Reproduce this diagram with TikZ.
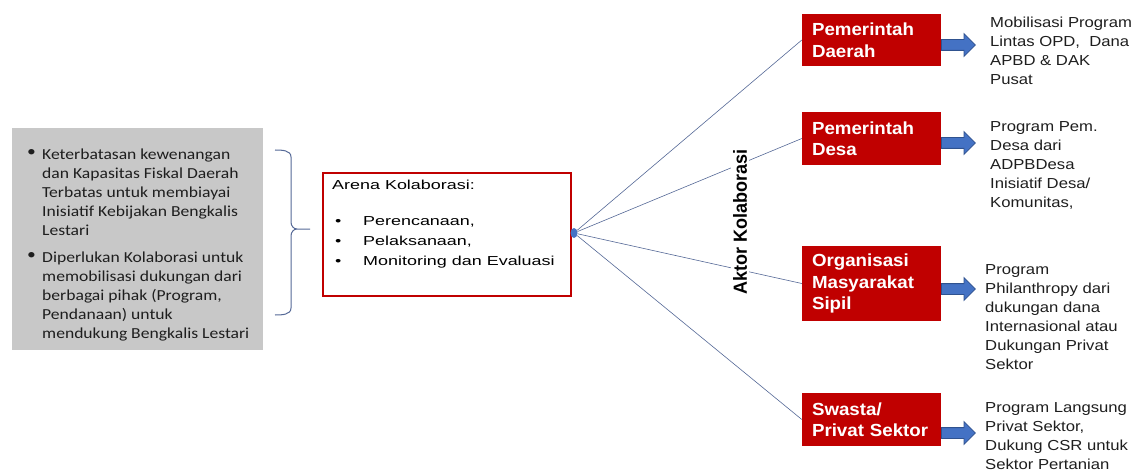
\documentclass[tikz,border=0pt]{standalone}
\usepackage{fontspec}
\setmainfont{Liberation Sans}
\newfontfamily\calibrifont{Carlito}[FakeStretch=1.15]
\newfontfamily\arenafont{Liberation Sans}[FakeStretch=1.38]
\newfontfamily\kotakfont{Liberation Sans}[FakeStretch=1.07]
\newfontfamily\ketfont{Liberation Sans}[FakeStretch=1.15]
\newfontfamily\aktorfont{Liberation Sans}[FakeStretch=0.95]
\usepackage{xcolor}
\definecolor{myred}{RGB}{192,0,0}
\definecolor{mygray}{RGB}{200,200,200}
\definecolor{myblue}{RGB}{68,114,196}
\definecolor{mydarkblue}{RGB}{47,82,143}
\definecolor{myline}{RGB}{84,104,150}
\definecolor{mytext}{RGB}{30,30,30}
\usepackage{tikz}
\usetikzlibrary{shapes.arrows,shapes.geometric,positioning}

\begin{document}
\begin{tikzpicture}[
  x=1pt, y=-1pt,
  graybox/.style={
    fill=mygray,
    minimum width=251,
    minimum height=222,
    anchor=north west
    },
  graytext/.style={
    anchor=north west,
    inner sep=0,
    align=left,
    text=mytext,
    font=\calibrifont\fontsize{15.3}{18.8}\selectfont
    },
  arenabox/.style={
    draw=myred,
    line width=2,
    fill=white,
    minimum width=248,
    minimum height=123,
    anchor=north west
    },
  aktorbox/.style={
    fill=myred,
    text=white,
    minimum width=139,
    text width=119,
    inner xsep=10,
    align=left,
    font=\kotakfont\bfseries\fontsize{17.5}{21.5}\selectfont
    },
  keterangan/.style={
    anchor=west,
    inner sep=0,
    align=left,
    text=mytext,
    font=\ketfont\fontsize{14.5}{19}\selectfont
    },
  panah/.style={
    single arrow,
    fill=myblue,
    draw=mydarkblue,
    line width=0.8,
    inner sep=5,
    minimum height=34,
    single arrow head extend=6,
    anchor=tail
    },
  garis/.style={draw=myline, line width=0.6},
  hub/.style={ellipse, fill=myblue, minimum width=7, minimum height=10, inner sep=0}
]
\useasboundingbox (0,0) rectangle (1137,473);

\node[graybox] (kendala) at (12,128) {};
\node[graytext] (butir1) at (27,149) {\textbullet};
\node[graytext] (poin1) at (42,149)
  {Keterbatasan kewenangan\\
   dan Kapasitas Fiskal Daerah\\
   Terbatas untuk membiayai\\
   Inisiatif Kebijakan Bengkalis\\
   Lestari};
\node[graytext] (butir2) at (27,252) {\textbullet};
\node[graytext] (poin2) at (42,252)
  {Diperlukan Kolaborasi untuk\\
   memobilisasi dukungan dari\\
   berbagai pihak (Program,\\
   Pendanaan) untuk\\
   mendukung Bengkalis Lestari};

\coordinate (kurungatas) at (275,150);
\coordinate (kurungujung) at (310,229);
\coordinate (kurungbawah) at (275,315);
\draw[garis, line width=1]
  (kurungatas) to[out=0,in=90] (291,157) -- (291,222)
  to[out=-90,in=180] (297,229) -- (kurungujung)
  (297,229) to[out=180,in=90] (291,236) -- (291,308)
  to[out=-90,in=0] (kurungbawah);

\node[arenabox] (arena) at (322,172) {};
\node[anchor=north west, inner sep=0, align=left, font=\arenafont\fontsize{13}{20}\selectfont]
  (arenateks) at (332,180)
  {Arena Kolaborasi:\\[16pt]
   \hspace{3pt}\makebox[28pt][l]{\textbullet}Perencanaan,\\
   \hspace{3pt}\makebox[28pt][l]{\textbullet}Pelaksanaan,\\
   \hspace{3pt}\makebox[28pt][l]{\textbullet}Monitoring dan Evaluasi};

\node[hub] (pusat) at (574,233) {};

\node[aktorbox, minimum height=52] (pemda) at (871.5,40) {Pemerintah\\ Daerah};
\node[aktorbox, minimum height=53] (pemdes) at (871.5,138.5) {Pemerintah\\ Desa};
\node[aktorbox, minimum height=75] (oms) at (871.5,283.5) {Organisasi\\ Masyarakat\\ Sipil};
\node[aktorbox, minimum height=53] (swasta) at (871.5,419.5) {Swasta/\\ Privat Sektor};

\foreach \aktor/\ya in {pemda/45, pemdes/143, oms/289, swasta/433}
  {
  \draw[garis] (pusat) -- (\aktor.west);
  \node[panah] (panah-\aktor) at (941,\ya) {};
  }

\node[rotate=90, fill=white, inner sep=2, font=\aktorfont\bfseries\fontsize{19}{22}\selectfont]
  (aktor) at (740,222) {Aktor Kolaborasi};

\node[keterangan] (ket-pemda) at (990,51)
  {Mobilisasi Program\\ Lintas OPD,~ Dana\\ APBD \& DAK\\ Pusat};
\node[keterangan] (ket-pemdes) at (990,165.5)
  {Program Pem.\\ Desa dari\\ ADPBDesa\\ Inisiatif Desa/\\ Komunitas,};
\node[keterangan] (ket-oms) at (985,317.5)
  {Program\\ Philanthropy dari\\ dukungan dana\\ Internasional atau\\ Dukungan Privat\\ Sektor};
\node[keterangan] (ket-swasta) at (985,436)
  {Program Langsung\\ Privat Sektor,\\ Dukung CSR untuk\\ Sektor Pertanian};
\end{tikzpicture}
\end{document}
